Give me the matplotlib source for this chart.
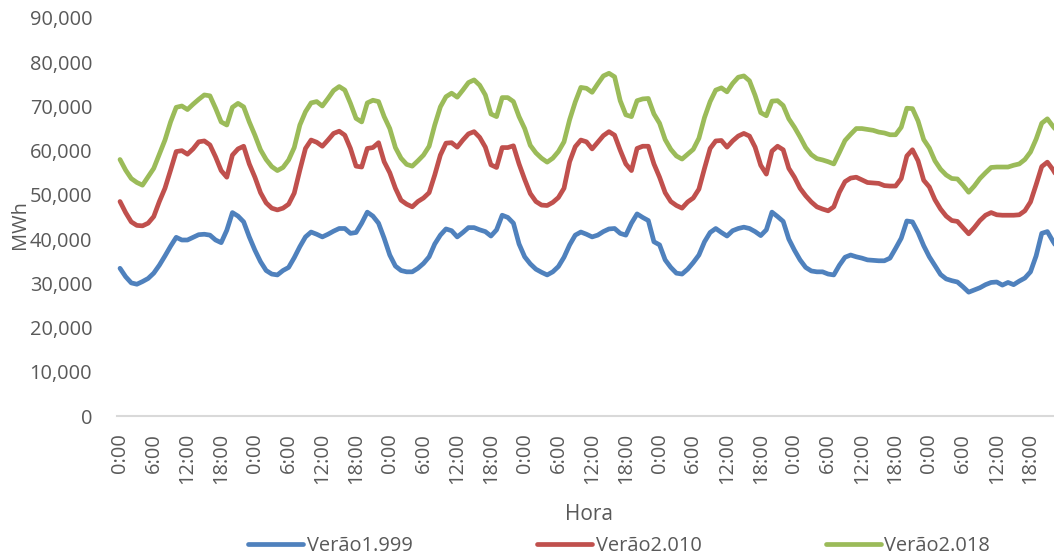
import matplotlib
matplotlib.use("Agg")
import matplotlib.pyplot as plt
from matplotlib.ticker import FuncFormatter

plt.rcParams["font.family"] = ["Open Sans", "DejaVu Sans"]

# Hourly summer load (MWh), seven consecutive days, 24 values per day
verao_1999 = [
    33400, 31500, 30100, 29800, 30400, 31100, 32300, 34100, 36200, 38400, 40400, 39800,
    39800, 40400, 41000, 41100, 40900, 39800, 39200, 42000, 46000, 45200, 43900, 40500,
    37500, 34900, 32900, 32100, 31900, 32900, 33600, 35800, 38300, 40500, 41600, 41100,
    40500, 41100, 41800, 42400, 42400, 41300, 41500, 43600, 46100, 45200, 43600, 40200,
    36400, 33900, 32900, 32600, 32600, 33400, 34500, 36000, 38900, 40900, 42300, 41900,
    40500, 41500, 42600, 42600, 42100, 41700, 40700, 42100, 45400, 44900, 43600, 38900,
    36000, 34400, 33200, 32500, 31900, 32600, 33800, 35900, 38700, 40900, 41600, 41100,
    40500, 40900, 41700, 42300, 42400, 41300, 40900, 43600, 45700, 44900, 44200, 39400,
    38700, 35300, 33600, 32300, 32100, 33200, 34700, 36400, 39400, 41500, 42400, 41500,
    40700, 41900, 42400, 42700, 42400, 41700, 40800, 42100, 46100, 45100, 44000, 40000,
    37500, 35300, 33600, 32800, 32600, 32600, 32100, 31900, 34100, 35900, 36400, 36000,
    35700, 35300, 35200, 35100, 35100, 35700, 37900, 40200, 44100, 43900, 41500, 38500,
    36000, 34000, 32000, 31000, 30600, 30300, 29200, 28000, 28500, 29000, 29700, 30200,
    30300, 29600, 30200, 29700, 30500, 31200, 32600, 36200, 41300, 41700, 39500, 37500,
]

verao_2010 = [
    48500, 46000, 43900, 43100, 43000, 43600, 45100, 48500, 51500, 55600, 59800, 60000,
    59200, 60400, 62000, 62200, 61300, 58600, 55500, 54000, 59000, 60400, 61000, 57000,
    54000, 50500, 48200, 47000, 46600, 47000, 47900, 50400, 55600, 60500, 62400, 61900,
    61000, 62400, 63900, 64400, 63500, 60500, 56500, 56300, 60500, 60700, 61800, 57500,
    55000, 51500, 48800, 47900, 47300, 48500, 49300, 50500, 54500, 59000, 61700, 61800,
    60800, 62400, 63800, 64300, 63000, 60800, 56800, 56200, 60700, 60700, 61100, 57000,
    53500, 50300, 48500, 47700, 47600, 48300, 49400, 51500, 57500, 60900, 62400, 62000,
    60400, 61900, 63400, 64300, 63500, 60100, 57000, 55500, 60500, 61000, 61000, 57000,
    54000, 50500, 48500, 47600, 47000, 48400, 49300, 51300, 56000, 60500, 62200, 62300,
    60800, 62200, 63300, 63900, 63300, 60800, 56700, 54700, 59900, 61000, 60200, 56000,
    54000, 51500, 49800, 48400, 47300, 46800, 46400, 47300, 50600, 53000, 53800, 54000,
    53400, 52800, 52700, 52600, 52100, 52000, 52000, 53700, 58800, 60200, 57700, 53300,
    51800, 48900, 46800, 45200, 44200, 44000, 42600, 41200, 42600, 44200, 45400, 46000,
    45500, 45400, 45400, 45400, 45500, 46400, 48400, 52300, 56400, 57400, 55700, 53500,
]

verao_2018 = [
    58000, 55600, 53700, 52800, 52200, 54100, 56000, 59200, 62400, 66500, 69800, 70100,
    69300, 70500, 71600, 72600, 72400, 69600, 66500, 65800, 69800, 70700, 69900, 66500,
    63500, 60200, 58000, 56400, 55500, 56200, 57900, 60700, 65800, 68800, 70800, 71100,
    70100, 71800, 73600, 74500, 73700, 70700, 67300, 66500, 70800, 71400, 71100, 67700,
    65000, 60700, 58300, 56900, 56500, 57700, 59000, 61000, 65800, 69900, 72200, 73000,
    72100, 73700, 75400, 76000, 74800, 72600, 68300, 67700, 72000, 72000, 71100, 67700,
    65000, 61200, 59500, 58300, 57400, 58300, 59800, 62000, 67000, 71000, 74300, 74100,
    73200, 75100, 76900, 77500, 76700, 71300, 68100, 67700, 71300, 71700, 71800, 68300,
    66200, 62500, 60300, 58800, 58100, 59200, 60300, 62800, 67500, 71100, 73700, 74200,
    73300, 75200, 76600, 76900, 75800, 72500, 68600, 67900, 71200, 71300, 70200, 67200,
    65300, 63100, 60700, 59100, 58200, 57900, 57500, 57000, 59600, 62300, 63700, 65000,
    65000, 64800, 64600, 64200, 64000, 63600, 63600, 65300, 69600, 69500, 66700, 62500,
    60600, 57700, 55800, 54500, 53700, 53600, 52200, 50600, 52000, 53700, 55000, 56200,
    56300, 56300, 56300, 56700, 57000, 58000, 59700, 62600, 66200, 67200, 65500, 64000,
]

tick_labels = ["0:00", "6:00", "12:00", "18:00"] * 7
series_names = ["Verão1.999", "Verão2.010", "Verão2.018"]
series_colors = ["#4F81BD", "#C0504D", "#9BBB59"]

text_color = "#595959"
W, H = 1054, 560
fig = plt.figure(figsize=(W / 100, H / 100), dpi=100)
# plot area: left edge at 117 px, zero line at 416 px, top at 18 px
ax = fig.add_axes([117.2 / W, (H - 416) / H, 944.2 / W, 398 / H])

hours = list(range(len(verao_1999)))
for values, name, color in zip([verao_1999, verao_2010, verao_2018], series_names, series_colors):
    ax.plot(hours, values, color=color, lw=3.4, label=name,
            solid_joinstyle="round", solid_capstyle="round")

ax.set_xlim(-0.5, len(hours) - 0.5)
ax.set_ylim(0, 90000)
ax.set_yticks(range(0, 90001, 10000))
ax.yaxis.set_major_formatter(FuncFormatter(lambda v, p: f"{int(v):,}"))
ax.set_xticks(range(0, len(hours), 6))
ax.set_xticklabels(tick_labels, rotation=90)

for side in ["top", "right", "left"]:
    ax.spines[side].set_visible(False)
ax.spines["bottom"].set_color("#D9D9D9")
ax.spines["bottom"].set_linewidth(1.5)

ax.tick_params(axis="y", length=0, pad=18, labelsize=14.4, labelcolor=text_color)
ax.tick_params(axis="x", length=0, pad=12, labelsize=14.4, labelcolor=text_color)

ax.set_xlabel("Hora", fontsize=15, color=text_color)
ax.xaxis.set_label_coords(0.5, (416 - 515) / 398)
ax.xaxis.label.set_va("center")
ax.set_ylabel("MWh", fontsize=14.4, color=text_color)
ax.yaxis.set_label_coords((20 - 117.2) / 944.2, (416 - 225) / 398)
ax.yaxis.label.set_va("center")

fig.legend(loc="center", bbox_to_anchor=(619 / W, 1 - 546 / H), ncol=3,
           frameon=False, fontsize=14.4, labelcolor=text_color,
           handlelength=2.75, handletextpad=0.2, columnspacing=6.2)

fig.savefig("out.png", dpi=100)
